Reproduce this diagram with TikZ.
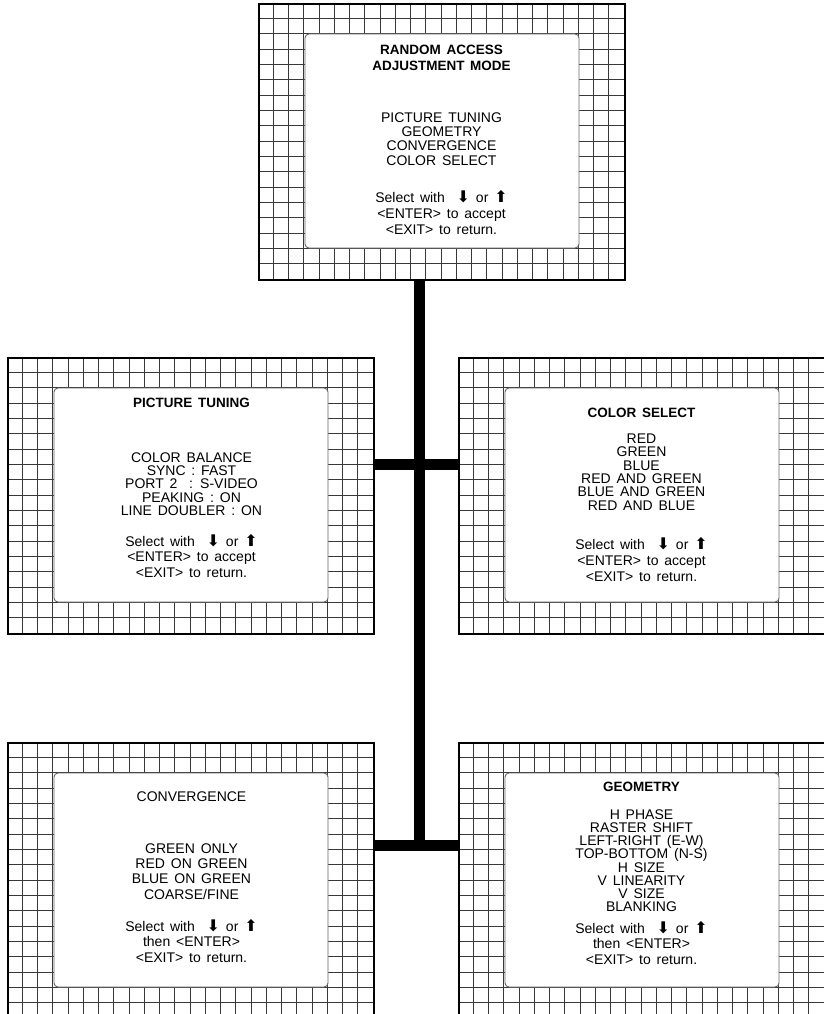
\documentclass[tikz,border=0pt]{standalone}
\usepackage{fontspec}
\setmainfont{Liberation Sans}[WordSpace=1.5]
\newfontfamily\arrowfont{DejaVu Sans}
\newcommand\dnarr{{\arrowfont\fontsize{16}{16}\selectfont ⬇}}
\newcommand\uparr{{\arrowfont\fontsize{16}{16}\selectfont ⬆}}
\newcommand\st{\rule{0pt}{12pt}}
\newcommand\ws{\hspace{0.42em}}
\tikzset{
  outerbox/.style={draw=black, line width=2pt, minimum width=366pt, minimum height=276pt, inner sep=0pt, anchor=north west},
  gridline/.style={draw=black!78, line width=0.9pt},
  panel/.style={draw=black!60, line width=0.9pt, fill=white, rounded corners=4pt, minimum width=274pt, minimum height=214pt, inner sep=0pt},
  bar/.style={line width=11pt, draw=black, line cap=butt},
  txt/.style={anchor=north, inner sep=0pt, align=center, font=\fontsize{14}{#1}\selectfont},
  ttl/.style={anchor=north, inner sep=0pt, align=center, font=\fontsize{13.5}{#1}\selectfont\bfseries},
}
\newcommand\screen[3]{%
  \begin{scope}[shift={(#2,#3)}]
    \foreach \i in {1,...,23} \draw[gridline] (\i*15.25,0) -- (\i*15.25,276);
    \foreach \j in {1,...,17} \draw[gridline] (0,\j*15.333) -- (366,\j*15.333);
  \end{scope}
  \node[outerbox] (#1) at (#2,#3) {};
  \node[panel] (#1-panel) at (#2+184,#3+138) {};
}
\newcommand\selA{\st Select with\ws\ws\dnarr\ws or\ws\uparr\\<ENTER> to accept\\<EXIT> to return.}
\newcommand\selB{\st Select with\ws\ws\dnarr\ws or\ws\uparr\\then <ENTER>\\<EXIT> to return.}
\begin{document}
\begin{tikzpicture}[x=1pt,y=-1pt]
\useasboundingbox (0,0) rectangle (824,1014);
\clip (0,0) rectangle (824,1014);
\fill[white] (0,0) rectangle (824,1014);

% screens
\screen{top}{258}{3}
\screen{pt}{7}{357}
\screen{cs}{458}{357}
\screen{cv}{7}{742}
\screen{geo}{458}{742}

% connectors
\coordinate (j1) at (419,464);
\coordinate (j2) at (419,845.5);
\draw[bar] (top.south -| j1) -- (j2);
\draw[bar] (pt.east |- j1) -- (cs.west |- j1);
\draw[bar] (cv.east |- j2) -- (geo.west |- j2);

% top screen texts
\node[ttl=16] (top-t) at (441.5,42) {\st RANDOM ACCESS\\ADJUSTMENT MODE};
\node[txt=14.3] (top-m) at (441.5,110) {\st PICTURE TUNING\\GEOMETRY\\CONVERGENCE\\COLOR SELECT};
\node[txt=16] (top-s) at (441.5,190) {\selA};

% picture tuning
\node[ttl=16] (pt-t) at (191.5,395) {\st PICTURE TUNING};
\node[txt=13.3] (pt-m) at (191.5,450) {\st COLOR BALANCE\\SYNC : FAST\\PORT 2\ \ : S-VIDEO\\PEAKING : ON\\LINE DOUBLER : ON};
\node[txt=15.5] (pt-s) at (191.5,534) {\selA};

% color select
\node[ttl=16] (cs-t) at (641.5,405) {\st COLOR SELECT};
\node[txt=13.4] (cs-m) at (641.5,431) {\st RED\\GREEN\\BLUE\\RED AND GREEN\\BLUE AND GREEN\\RED AND BLUE};
\node[txt=16] (cs-s) at (641.5,537) {\selA};

% convergence
\node[txt=16] (cv-t) at (191.5,789) {\st CONVERGENCE};
\node[txt=15.3] (cv-m) at (191.5,841) {\st GREEN ONLY\\RED ON GREEN\\BLUE ON GREEN\\COARSE/FINE};
\node[txt=15.5] (cv-s) at (191.5,919) {\selB};

% geometry
\node[ttl=16] (geo-t) at (641.5,779) {\st GEOMETRY};
\node[txt=13.25] (geo-m) at (641.5,807) {\st H PHASE\\RASTER SHIFT\\LEFT-RIGHT (E-W)\\TOP-BOTTOM (N-S)\\H SIZE\\V LINEARITY\\V SIZE\\BLANKING};
\node[txt=15.5] (geo-s) at (641.5,921) {\selB};
\end{tikzpicture}
\end{document}
